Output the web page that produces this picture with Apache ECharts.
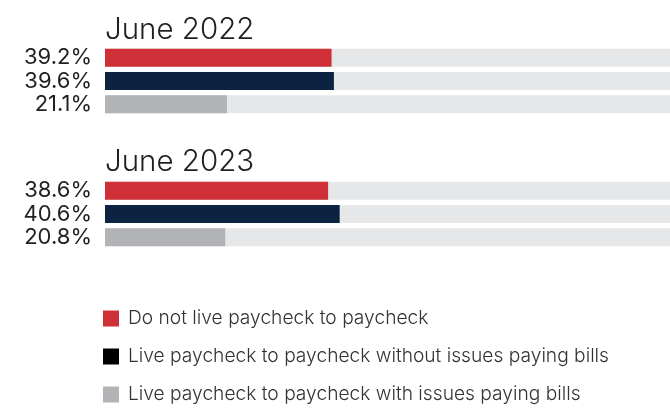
<!DOCTYPE html>
<html>

<head>
  <meta charset="utf-8" />
  <title>Paycheck to paycheck, June 2022 vs June 2023</title>
  <script src="https://cdn.jsdelivr.net/npm/echarts@6/dist/echarts.min.js"></script>
</head>

<body style="margin:0;">
  <div id="chart" style="width: 670px;height:410px;"></div>
  <script type="text/javascript">

    // Inline data
    let groups = ['June 2022', 'June 2023'];
    let categories = ['Do not live paycheck to paycheck',
      'Live paycheck to paycheck without issues paying bills',
      'Live paycheck to paycheck with issues paying bills'];
    let june2022 = [39.2, 39.6, 21.1];
    let june2023 = [38.6, 40.6, 20.8];
    let barColors = ['#cf2f37', '#0b2340', '#b1b3b6'];
    let legendColors = ['#cf2f37', '#000000', '#b1b3b6'];

    let values = [june2022, june2023];
    let font = 'Inter';
    let textColor = '#231f20';

    var chart = echarts.init(document.getElementById('chart'));

    // the grey tracks run past the right edge, as in the original
    var grids = [
      { left: 105, width: 578, top: 46, height: 70, outerBoundsMode: 'none' },
      { left: 105, width: 578, top: 179, height: 70, outerBoundsMode: 'none' }
    ];

    var xAxes = [], yAxes = [], series = [];
    values.forEach(function (vals, g) {
      xAxes.push({
        gridIndex: g, type: 'value', min: 0, max: 100, show: false
      });
      yAxes.push({
        gridIndex: g,
        type: 'category',
        inverse: true,
        data: categories,
        axisLine: { show: false },
        axisTick: { show: false },
        axisLabel: {
          interval: 0,
          margin: 13,
          fontFamily: font,
          fontSize: 22,
          color: textColor,
          formatter: function (v, idx) { return vals[idx].toFixed(1) + '%'; }
        }
      });
      // grey track behind the bars
      series.push({
        name: 'track' + g,
        type: 'bar',
        xAxisIndex: g,
        yAxisIndex: g,
        silent: true,
        barWidth: 18,
        itemStyle: { color: '#e6e7e8' },
        data: vals.map(function () { return 100; })
      });
      categories.forEach(function (c, i) {
        series.push({
          name: c,
          type: 'bar',
          xAxisIndex: g,
          yAxisIndex: g,
          barWidth: 18,
          barGap: '-100%',
          itemStyle: { color: barColors[i] },
          data: vals.map(function (v, j) { return j === i ? v : '-'; })
        });
      });
    });

    var option = {
      animation: false,
      title: groups.map(function (t, g) {
        return {
          text: t,
          left: 100,
          top: g === 0 ? 10 : 142,
          textStyle: { fontFamily: font, fontSize: 29.5, fontWeight: 300, color: textColor }
        };
      }),
      legend: {
        orient: 'vertical',
        left: 98,
        top: 304,
        height: 120,
        itemWidth: 16,
        itemHeight: 16,
        itemGap: 19,
        icon: 'rect',
        selectedMode: false,
        textStyle: {
          fontFamily: font, fontSize: 19.2, fontWeight: 300, color: '#333333',
          padding: [0, 0, 0, 4]
        },
        data: categories.map(function (c, i) {
          return { name: c, itemStyle: { color: legendColors[i] } };
        })
      },
      grid: grids,
      xAxis: xAxes,
      yAxis: yAxes,
      series: series
    };

    chart.setOption(option);
  </script>
</body>

</html>
